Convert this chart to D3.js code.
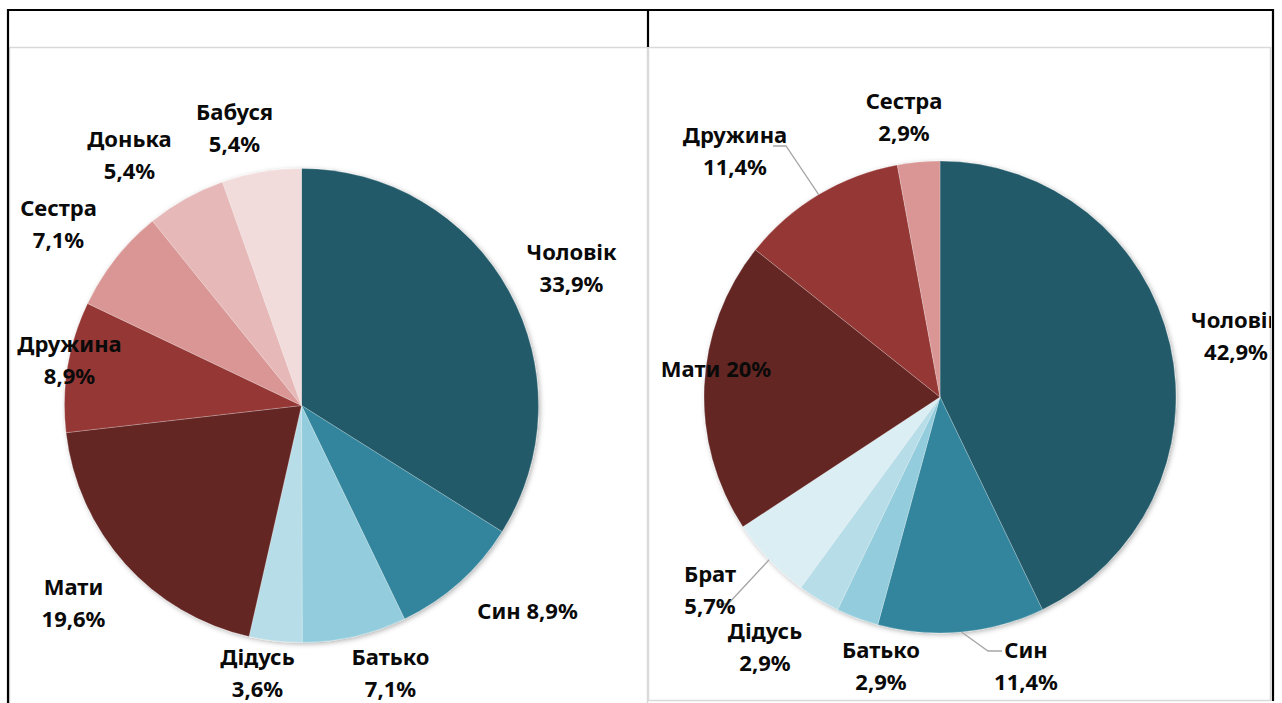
<!DOCTYPE html>
<html>
<head>
<meta charset="utf-8">
<script src="https://cdn.jsdelivr.net/npm/d3@7"></script>
<style>
	body { margin: 0; background: #fff; }
	.lbl { font-family: "Noto Sans", sans-serif; font-weight: 700; font-size: 22px; fill: #0a0a0a; }
</style>
</head>
<body>
<svg id="svg-pies" width="1282" height="703"></svg>
<script>
// ---- data ----
const leftNames  = ["Чоловік", "Син", "Батько", "Дідусь", "Мати", "Дружина", "Сестра", "Донька", "Бабуся"];
const leftValues = [33.9, 8.9, 7.1, 3.6, 19.6, 8.9, 7.1, 5.4, 5.4];
const leftPct    = ["33,9%", "8,9%", "7,1%", "3,6%", "19,6%", "8,9%", "7,1%", "5,4%", "5,4%"];

const rightNames  = ["Чоловік", "Син", "Батько", "Дідусь", "Брат", "Мати", "Дружина", "Сестра"];
const rightValues = [42.9, 11.4, 2.9, 2.9, 5.7, 20, 11.4, 2.9];
const rightPct    = ["42,9%", "11,4%", "2,9%", "2,9%", "5,7%", "20%", "11,4%", "2,9%"];

// ---- styles / layout ----
const COLORS = {
	"Чоловік": "#225a69", "Син": "#31859c", "Батько": "#93cddd", "Дідусь": "#b7dee8",
	"Брат": "#dbeef4", "Мати": "#632523", "Дружина": "#953735", "Сестра": "#d99694",
	"Донька": "#e6b9b8", "Бабуся": "#f2dcdb"
};

// label block centre relative to the pie centre; inline = one line
const LEFT_LAYOUT = {
	"Чоловік": {dx: 270, dy: -137},
	"Син":     {dx: 226, dy: 206, inline: true},
	"Батько":  {dx: 89,  dy: 268},
	"Дідусь":  {dx: -44, dy: 268},
	"Мати":    {dx: -228, dy: 198},
	"Дружина": {dx: -232, dy: -45},
	"Сестра":  {dx: -243, dy: -181},
	"Донька":  {dx: -172, dy: -250},
	"Бабуся":  {dx: -67, dy: -277}
};
const RIGHT_LAYOUT = {
	"Чоловік": {dx: 296, dy: -61},
	"Син":     {dx: 86,  dy: 269, leader: [[-38, -15], [-24, -15]]},
	"Батько":  {dx: -59, dy: 269},
	"Дідусь":  {dx: -175, dy: 250},
	"Брат":    {dx: -230, dy: 193, leader: [[18, 14], [7, 14]]},
	"Мати":    {dx: -224, dy: -28, inline: true},
	"Дружина": {dx: -205, dy: -246, leader: [[51, -5], [38, -5]]},
	"Сестра":  {dx: -36, dy: -280}
};

const svg = d3.select("#svg-pies");
const defs = svg.append("defs");

const shadow = defs.append("filter").attr("id", "pie-shadow")
	.attr("x", "-10%").attr("y", "-10%").attr("width", "120%").attr("height", "120%");
shadow.append("feDropShadow")
	.attr("dx", 1.5).attr("dy", 1.5).attr("stdDeviation", 2.5)
	.attr("flood-color", "#000").attr("flood-opacity", 0.3);

// ---- table frame & chart areas ----
svg.append("rect").attr("x", 9.5).attr("y", 47.5).attr("width", 638).attr("height", 670)
	.attr("fill", "none").attr("stroke", "#d9d9d9").attr("stroke-width", 1.5);
svg.append("rect").attr("x", 648.5).attr("y", 47.5).attr("width", 622).attr("height", 653)
	.attr("fill", "none").attr("stroke", "#d9d9d9").attr("stroke-width", 1.5);

const frame = svg.append("g").attr("stroke", "#000").attr("stroke-width", 2.2);
frame.append("line").attr("x1", 7).attr("x2", 1274).attr("y1", 10).attr("y2", 10);
frame.append("line").attr("x1", 8).attr("x2", 8).attr("y1", 9).attr("y2", 703);
frame.append("line").attr("x1", 1273).attr("x2", 1273).attr("y1", 9).attr("y2", 701);
frame.append("line").attr("x1", 648).attr("x2", 648).attr("y1", 9).attr("y2", 47);

function drawPie(id, names, values, pct, layout, cx, cy, r, clip) {
	const data = names.map((n, i) => ({name: n, value: values[i], pct: pct[i]}));

	defs.append("clipPath").attr("id", "clip-" + id)
		.append("rect").attr("x", clip[0]).attr("y", clip[1]).attr("width", clip[2]).attr("height", clip[3]);

	const chart = svg.append("g")
		.attr("clip-path", `url(#clip-${id})`);
	const g = chart.append("g").attr("transform", `translate(${cx}, ${cy})`);

	const pie = d3.pie().sort(null).value(d => d.value);
	const arc = d3.arc().innerRadius(0).outerRadius(r);
	const edge = d3.arc().innerRadius(r).outerRadius(r);
	const arcs = pie(data);

	g.append("g")
		.attr("filter", "url(#pie-shadow)")
		.selectAll("path")
		.data(arcs)
		.enter()
		.append("path")
		.attr("d", arc)
		.attr("fill", d => COLORS[d.data.name])
		.attr("stroke", "rgba(255,255,255,0.4)")
		.attr("stroke-width", 0.6);

	// leader lines
	g.selectAll(".leader")
		.data(arcs.filter(d => layout[d.data.name].leader))
		.enter()
		.append("polyline")
		.classed("leader", true)
		.attr("fill", "none")
		.attr("stroke", "#a6a6a6")
		.attr("stroke-width", 1.3)
		.attr("points", d => {
			const L = layout[d.data.name];
			const p0 = edge.centroid(d);
			const p1 = [L.dx + L.leader[0][0], L.dy + L.leader[0][1]];
			const p2 = [L.dx + L.leader[1][0], L.dy + L.leader[1][1]];
			return [p0, p1, p2].map(p => p.join(",")).join(" ");
		});

	// labels
	const labels = g.selectAll(".lbl")
		.data(arcs)
		.enter()
		.append("text")
		.classed("lbl", true)
		.attr("text-anchor", "middle")
		.attr("transform", d => `translate(${layout[d.data.name].dx}, ${layout[d.data.name].dy})`);

	labels.each(function(d) {
		const t = d3.select(this);
		if (layout[d.data.name].inline) {
			t.append("tspan").attr("x", 0).attr("dy", "0.35em").text(d.data.name + " " + d.data.pct);
		} else {
			t.append("tspan").attr("x", 0).attr("y", -16).attr("dy", "0.35em").text(d.data.name);
			t.append("tspan").attr("x", 0).attr("y", 16).attr("dy", "0.35em").text(d.data.pct);
		}
	});
}

drawPie("left", leftNames, leftValues, leftPct, LEFT_LAYOUT, 301.5, 405.5, 237, [10, 48, 637, 655]);
drawPie("right", rightNames, rightValues, rightPct, RIGHT_LAYOUT, 940, 397, 236, [649, 48, 622, 652]);
</script>
</body>
</html>
